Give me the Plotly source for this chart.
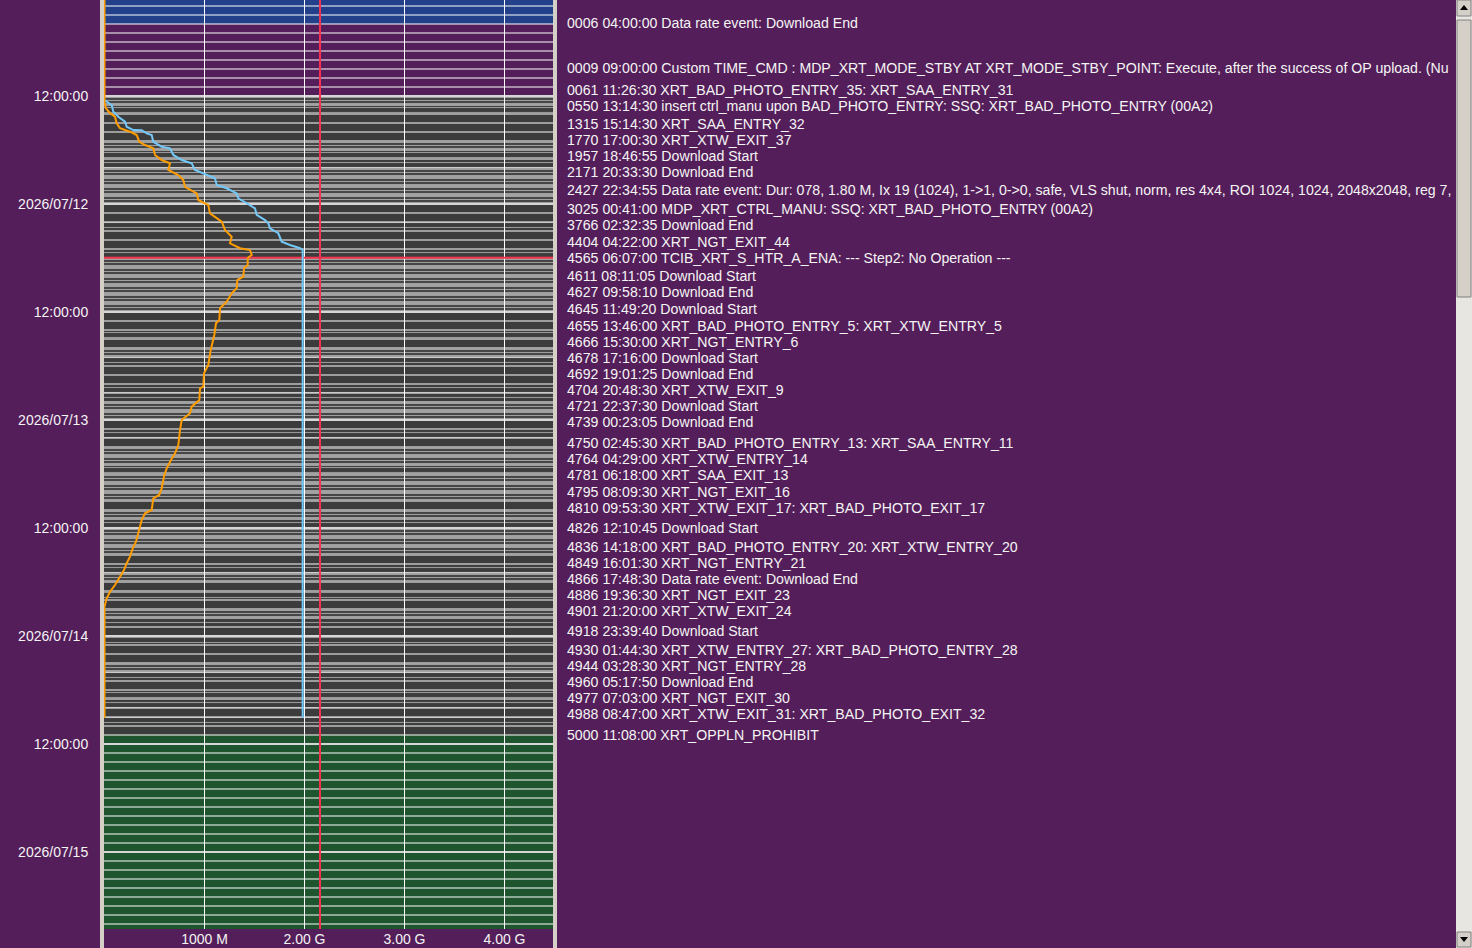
import pandas as pd
import plotly.graph_objects as go

W, H = 1472, 948
BG = "#541e5a"
FONT = "Liberation Sans"

# hour cells of the schedule strip (start of each hour)
blue_start, blue_end = "2026-07-11 01:00", "2026-07-11 03:00"
purple_start, purple_end = "2026-07-11 04:00", "2026-07-11 11:00"
gray_start = "2026-07-11 12:00"
# S = striped hour, M = partly striped, D = dark hour
gray_codes = ("SMDDDSMMSSSS"
              "DDMDDMSSSSSS" "DDMDSMDDMMSS"
              "DMDSSMSSSDSM" "SSSDMSDMDSMD"
              "MDDSMDMMDMD")
green_start, green_end = "2026-07-14 11:00", "2026-07-15 08:00"
half_day_marks = ["2026-07-11 12:00", "2026-07-12 00:00", "2026-07-12 12:00", "2026-07-13 00:00",
                  "2026-07-13 12:00", "2026-07-14 00:00", "2026-07-14 12:00", "2026-07-15 00:00"]
y_labels = ["12:00:00", "2026/07/12", "12:00:00", "2026/07/13",
            "12:00:00", "2026/07/14", "12:00:00", "2026/07/15"]
t_top, t_bottom = "2026-07-11 01:20:00", "2026-07-15 08:33:20"

x_ticks = [1000, 2000, 3000, 4000]
x_labels = ["1000 M", "2.00 G", "3.00 G", "4.00 G"]
x_min, x_max = -5, 4485
limit_mb = 2155
now_time = "2026-07-12 05:58"

orange_t = ["2026-07-11 01:20", "2026-07-11 12:49", "2026-07-11 13:22", "2026-07-11 13:55", "2026-07-11 14:18",
            "2026-07-11 15:02", "2026-07-11 15:35", "2026-07-11 15:58", "2026-07-11 16:20", "2026-07-11 17:05",
            "2026-07-11 17:27", "2026-07-11 17:49", "2026-07-11 18:33", "2026-07-11 19:07", "2026-07-11 19:29",
            "2026-07-11 20:13", "2026-07-11 20:47", "2026-07-11 21:20", "2026-07-11 22:05", "2026-07-11 22:49",
            "2026-07-11 23:33",
            "2026-07-12 00:07", "2026-07-12 01:02", "2026-07-12 01:58", "2026-07-12 02:53", "2026-07-12 03:38",
            "2026-07-12 04:22", "2026-07-12 04:55", "2026-07-12 05:07", "2026-07-12 05:40", "2026-07-12 06:00",
            "2026-07-12 06:47", "2026-07-12 07:09", "2026-07-12 08:05", "2026-07-12 08:27", "2026-07-12 09:22",
            "2026-07-12 09:55", "2026-07-12 10:51", "2026-07-12 11:35", "2026-07-12 12:53", "2026-07-12 13:15",
            "2026-07-12 14:33", "2026-07-12 16:13", "2026-07-12 17:53", "2026-07-12 18:48", "2026-07-12 20:18",
            "2026-07-12 20:29", "2026-07-12 21:47", "2026-07-12 22:31", "2026-07-12 23:15",
            "2026-07-13 00:00", "2026-07-13 01:07", "2026-07-13 02:47", "2026-07-13 03:42", "2026-07-13 04:27",
            "2026-07-13 05:22", "2026-07-13 06:07", "2026-07-13 07:35", "2026-07-13 08:20", "2026-07-13 08:42",
            "2026-07-13 10:00", "2026-07-13 10:22", "2026-07-13 11:07", "2026-07-13 12:13", "2026-07-13 13:31",
            "2026-07-13 14:16", "2026-07-13 15:11", "2026-07-13 15:55", "2026-07-13 16:40", "2026-07-13 17:25",
            "2026-07-13 18:20", "2026-07-13 19:05", "2026-07-13 19:49", "2026-07-13 20:44",
            "2026-07-14 09:07"]
orange_mb = [0, 0, 15, 55, 105, 122, 155, 255, 322, 348, 405, 488, 505, 572, 655, 638, 738, 788, 805, 922, 938,
             1038, 1055, 1172, 1205, 1272, 1255, 1355, 1455, 1472, 1432, 1432, 1395, 1388, 1328, 1322, 1272,
             1222, 1155, 1148, 1115, 1098, 1062, 1038, 995, 988, 955, 948, 872, 855,
             772, 755, 738, 705, 665, 622, 598, 572, 548, 488, 472, 405, 372, 348, 315, 282, 255, 222, 195,
             155, 105, 55, 22, 0,
             0]

blue_t = ["2026-07-11 12:27", "2026-07-11 12:38", "2026-07-11 13:00", "2026-07-11 13:44", "2026-07-11 14:18",
          "2026-07-11 14:51", "2026-07-11 15:25", "2026-07-11 15:47", "2026-07-11 15:48", "2026-07-11 16:09",
          "2026-07-11 16:20", "2026-07-11 17:05", "2026-07-11 17:38", "2026-07-11 17:49", "2026-07-11 18:33",
          "2026-07-11 19:07", "2026-07-11 19:29", "2026-07-11 20:13", "2026-07-11 20:47", "2026-07-11 21:09",
          "2026-07-11 21:53", "2026-07-11 22:15", "2026-07-11 22:49", "2026-07-11 23:22", "2026-07-11 23:55",
          "2026-07-12 00:29", "2026-07-12 01:13", "2026-07-12 01:47", "2026-07-12 02:09", "2026-07-12 02:42",
          "2026-07-12 03:15", "2026-07-12 04:11", "2026-07-12 04:33", "2026-07-12 04:55", "2026-07-12 05:07",
          "2026-07-14 09:07"]
blue_mb = [0, 22, 72, 88, 138, 205, 222, 288, 372, 422, 472, 488, 572, 655, 688, 772, 872, 905, 1022, 1105,
           1122, 1222, 1322, 1338, 1422,
           1505, 1522, 1605, 1638, 1655, 1738, 1772, 1855, 1955, 1982,
           1982]

event_t = ["2026-07-11 04:00:00", "2026-07-11 09:00:00", "2026-07-11 11:26:30", "2026-07-11 13:14:30",
           "2026-07-11 15:14:30", "2026-07-11 17:00:30", "2026-07-11 18:46:55", "2026-07-11 20:33:30",
           "2026-07-11 22:34:55", "2026-07-12 00:41:00", "2026-07-12 02:32:35", "2026-07-12 04:22:00",
           "2026-07-12 06:07:00", "2026-07-12 08:11:05", "2026-07-12 09:58:10", "2026-07-12 11:49:20",
           "2026-07-12 13:46:00", "2026-07-12 15:30:00", "2026-07-12 17:16:00", "2026-07-12 19:01:25",
           "2026-07-12 20:48:30", "2026-07-12 22:37:30", "2026-07-13 00:23:05", "2026-07-13 02:45:30",
           "2026-07-13 04:29:00", "2026-07-13 06:18:00", "2026-07-13 08:09:30", "2026-07-13 09:53:30",
           "2026-07-13 12:10:45", "2026-07-13 14:18:00", "2026-07-13 16:01:30", "2026-07-13 17:48:30",
           "2026-07-13 19:36:30", "2026-07-13 21:20:00", "2026-07-13 23:39:40", "2026-07-14 01:44:30",
           "2026-07-14 03:28:30", "2026-07-14 05:17:50", "2026-07-14 07:03:00", "2026-07-14 08:47:00",
           "2026-07-14 11:08:00"]
event_text = [
    "0006 04:00:00 Data rate event: Download End",
    "0009 09:00:00 Custom TIME_CMD : MDP_XRT_MODE_STBY AT XRT_MODE_STBY_POINT: Execute, after the success of OP upload. (Nu",
    "0061 11:26:30 XRT_BAD_PHOTO_ENTRY_35: XRT_SAA_ENTRY_31",
    "0550 13:14:30 insert ctrl_manu upon BAD_PHOTO_ENTRY: SSQ: XRT_BAD_PHOTO_ENTRY (00A2)",
    "1315 15:14:30 XRT_SAA_ENTRY_32",
    "1770 17:00:30 XRT_XTW_EXIT_37",
    "1957 18:46:55 Download Start",
    "2171 20:33:30 Download End",
    "2427 22:34:55 Data rate event: Dur: 078, 1.80 M, Ix 19 (1024), 1->1, 0->0, safe, VLS shut, norm, res 4x4, ROI 1024, 1024, 2048x2048, reg 7,",
    "3025 00:41:00 MDP_XRT_CTRL_MANU: SSQ: XRT_BAD_PHOTO_ENTRY (00A2)",
    "3766 02:32:35 Download End",
    "4404 04:22:00 XRT_NGT_EXIT_44",
    "4565 06:07:00 TCIB_XRT_S_HTR_A_ENA: --- Step2: No Operation ---",
    "4611 08:11:05 Download Start",
    "4627 09:58:10 Download End",
    "4645 11:49:20 Download Start",
    "4655 13:46:00 XRT_BAD_PHOTO_ENTRY_5: XRT_XTW_ENTRY_5",
    "4666 15:30:00 XRT_NGT_ENTRY_6",
    "4678 17:16:00 Download Start",
    "4692 19:01:25 Download End",
    "4704 20:48:30 XRT_XTW_EXIT_9",
    "4721 22:37:30 Download Start",
    "4739 00:23:05 Download End",
    "4750 02:45:30 XRT_BAD_PHOTO_ENTRY_13: XRT_SAA_ENTRY_11",
    "4764 04:29:00 XRT_XTW_ENTRY_14",
    "4781 06:18:00 XRT_SAA_EXIT_13",
    "4795 08:09:30 XRT_NGT_EXIT_16",
    "4810 09:53:30 XRT_XTW_EXIT_17: XRT_BAD_PHOTO_EXIT_17",
    "4826 12:10:45 Download Start",
    "4836 14:18:00 XRT_BAD_PHOTO_ENTRY_20: XRT_XTW_ENTRY_20",
    "4849 16:01:30 XRT_NGT_ENTRY_21",
    "4866 17:48:30 Data rate event: Download End",
    "4886 19:36:30 XRT_NGT_EXIT_23",
    "4901 21:20:00 XRT_XTW_EXIT_24",
    "4918 23:39:40 Download Start",
    "4930 01:44:30 XRT_XTW_ENTRY_27: XRT_BAD_PHOTO_ENTRY_28",
    "4944 03:28:30 XRT_NGT_ENTRY_28",
    "4960 05:17:50 Download End",
    "4977 07:03:00 XRT_NGT_EXIT_30",
    "4988 08:47:00 XRT_XTW_EXIT_31: XRT_BAD_PHOTO_EXIT_32",
    "5000 11:08:00 XRT_OPPLN_PROHIBIT",
]

# ---- build hour cells
half = pd.Timedelta(minutes=30)
def hours(a, b):
    return list(pd.date_range(a, b, freq="h") + half)

gray_hours = pd.date_range(gray_start, periods=len(gray_codes), freq="h") + half
cells = {
    "blue": hours(blue_start, blue_end),
    "purple": hours(purple_start, purple_end),
    "D": [h for h, c in zip(gray_hours, gray_codes) if c == "D"],
    "S": [h for h, c in zip(gray_hours, gray_codes) if c == "S"],
    "M": [h for h, c in zip(gray_hours, gray_codes) if c == "M"],
    "green": hours(green_start, green_end),
}
styles = {
    "blue": dict(color="#22418a"),
    "purple": dict(color=BG),
    "D": dict(color="#3c3c3c"),
    "S": dict(color="#3c3c3c", pattern=dict(shape="-", size=3, solidity=0.4,
                                             fgcolor="#ffffff", bgcolor="#3c3c3c")),
    "M": dict(color="#3c3c3c", pattern=dict(shape="-", size=5, solidity=0.22,
                                             fgcolor="#f2f2f2", bgcolor="#3c3c3c")),
    "green": dict(color="#1e552e"),
}

fig = go.Figure()
cell_w = 3600000 * 8 / 9
for key, ys in cells.items():
    fig.add_trace(go.Bar(y=ys, x=[x_max - x_min] * len(ys), base=x_min, orientation="h",
                         width=cell_w, marker=dict(line_width=0, **styles[key]), hoverinfo="skip"))

# 12h separators
sx, sy = [], []
for t in half_day_marks:
    sx += [x_min, x_max, None]
    sy += [t, t, None]
fig.add_trace(go.Scatter(x=sx, y=sy, mode="lines", line=dict(color="#d6d6d6", width=2), hoverinfo="skip"))

# vertical grid
gx, gy = [], []
for v in x_ticks:
    gx += [v, v, None]
    gy += [t_top, t_bottom, None]
fig.add_trace(go.Scatter(x=gx, y=gy, mode="lines", line=dict(color="white", width=1), hoverinfo="skip"))

# red limit / now lines
fig.add_trace(go.Scatter(x=[limit_mb, limit_mb], y=[t_top, t_bottom], mode="lines",
                         line=dict(color="#f3334f", width=2), hoverinfo="skip"))
fig.add_trace(go.Scatter(x=[x_min, x_max], y=[now_time, now_time], mode="lines",
                         line=dict(color="#f3334f", width=2), hoverinfo="skip"))

fig.add_trace(go.Scatter(x=blue_mb, y=blue_t, mode="lines", line=dict(color="#74c8f8", width=2),
                         hoverinfo="skip"))
fig.add_trace(go.Scatter(x=orange_mb, y=orange_t, mode="lines", line=dict(color="#ff9c00", width=2),
                         hoverinfo="skip"))

# event list
fig.add_trace(go.Scatter(x=[0] * len(event_t), y=event_t, text=event_text, mode="text",
                         textposition="middle right", xaxis="x2", yaxis="y", cliponaxis=True,
                         textfont=dict(family=FONT, size=14.15, color="#f4f4f4"), hoverinfo="skip"))

def px(x):
    return x / W

def py(y):
    return 1 - y / H

shapes = [
    dict(type="rect", xref="x domain", yref="y domain", x0=0, x1=1, y0=0, y1=1,
         fillcolor="white", line_width=0, layer="below"),
    # frame of the strip
    dict(type="rect", xref="paper", yref="paper", x0=px(100), x1=px(104), y0=0, y1=1,
         fillcolor="#d4d0c8", line_width=0),
    dict(type="rect", xref="paper", yref="paper", x0=px(553), x1=px(557), y0=0, y1=1,
         fillcolor="#d4d0c8", line_width=0),
    # scrollbar
    dict(type="rect", xref="paper", yref="paper", x0=px(1456), x1=1, y0=0, y1=1,
         fillcolor="#e8e6e1", line_width=0),
    dict(type="rect", xref="paper", yref="paper", x0=px(1457), x1=px(1471), y0=py(16), y1=py(0),
         fillcolor="#d4d0c8", line=dict(color="#808080", width=1)),
    dict(type="rect", xref="paper", yref="paper", x0=px(1457), x1=px(1471), y0=py(297), y1=py(20),
         fillcolor="#d4d0c8", line=dict(color="#808080", width=1)),
    dict(type="rect", xref="paper", yref="paper", x0=px(1457), x1=px(1471), y0=py(947), y1=py(932),
         fillcolor="#d4d0c8", line=dict(color="#808080", width=1)),
    dict(type="path", xref="paper", yref="paper", fillcolor="black", line_width=0,
         path=f"M {px(1460)} {py(10)} L {px(1468)} {py(10)} L {px(1464)} {py(5)} Z"),
    dict(type="path", xref="paper", yref="paper", fillcolor="black", line_width=0,
         path=f"M {px(1460)} {py(937)} L {px(1468)} {py(937)} L {px(1464)} {py(942)} Z"),
]

tick_font = dict(family=FONT, size=14, color="#f4f4f4")
fig.update_layout(
    width=W, height=H,
    margin=dict(l=0, r=0, t=0, b=0),
    paper_bgcolor=BG, plot_bgcolor=BG,
    barmode="overlay", showlegend=False,
    font=dict(family=FONT, size=14, color="#f4f4f4"),
    shapes=shapes,
    xaxis=dict(domain=[px(104), px(553)], range=[x_min, x_max], anchor="y",
               tickvals=x_ticks, ticktext=x_labels, tickfont=tick_font,
               showgrid=False, zeroline=False, showline=False, ticks=""),
    xaxis2=dict(domain=[px(567), px(1456)], range=[0, 1], anchor="y", visible=False),
    yaxis=dict(domain=[1 - 929 / H, 1], type="date", range=[t_bottom, t_top],
               tickvals=half_day_marks, ticktext=y_labels, tickfont=tick_font,
               ticks="outside", ticklen=12, tickcolor=BG,
               showgrid=False, zeroline=False, showline=False),
)

fig.write_html("out.html", config={"displayModeBar": False},
               post_script="document.body.style.margin='0';document.body.style.overflow='hidden';")
